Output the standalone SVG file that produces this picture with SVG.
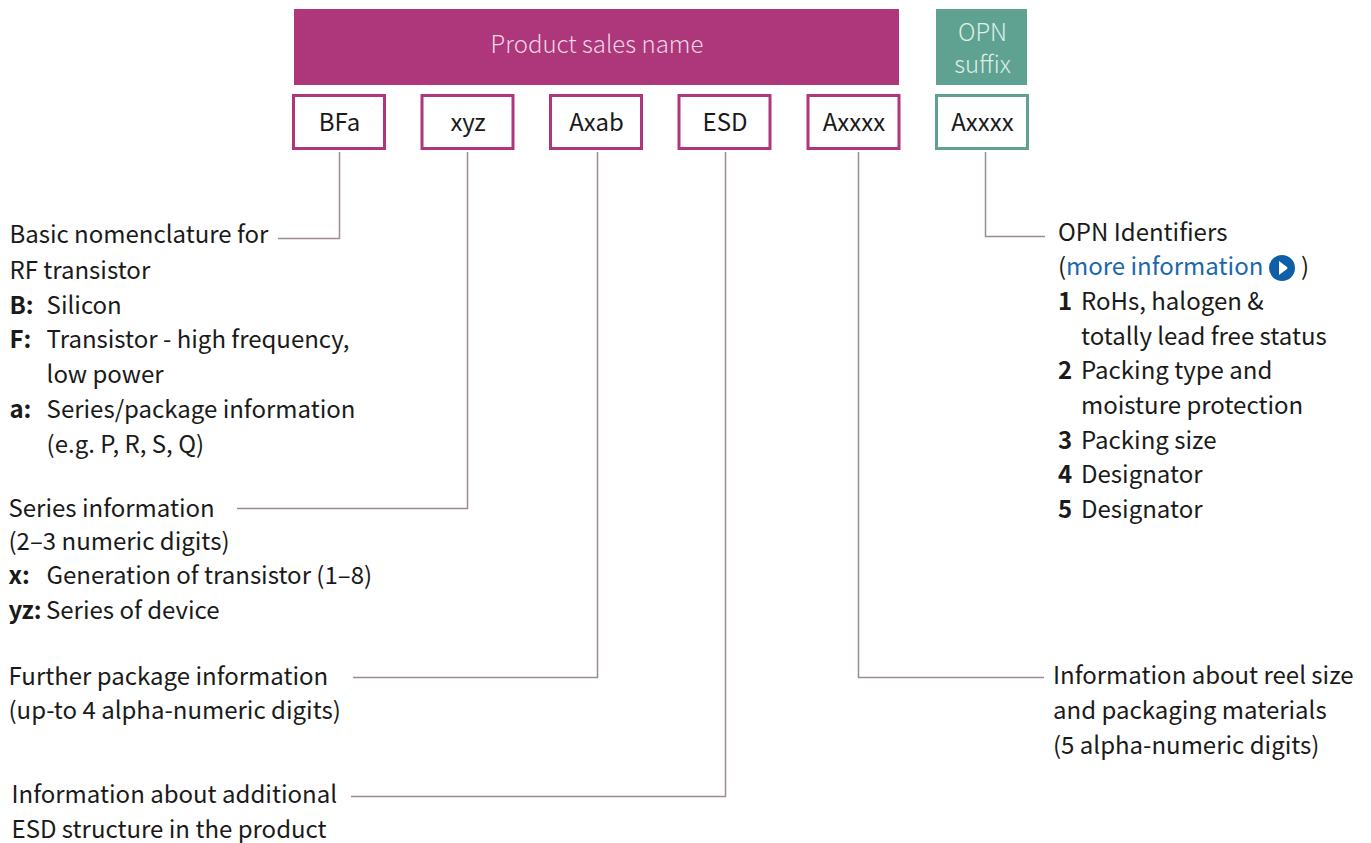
<svg xmlns="http://www.w3.org/2000/svg" width="1371" height="843" viewBox="0 0 1371 843">
<style>
text{font-family:"Noto Sans CJK JP","Noto Sans",sans-serif;font-size:24px;fill:#1a1a1a}
.b{font-weight:700}
.w{fill:#ecd5e4;text-anchor:middle;font-weight:300}
.g{fill:#dceee8;text-anchor:middle;font-weight:300}
.c{text-anchor:middle}
.box{fill:#fff;stroke:#b0367c;stroke-width:3}
.boxg{fill:#fff;stroke:#5fa291;stroke-width:3}
.ln{fill:none;stroke:#9c8d95;stroke-width:1.5}
</style>
<g id="connectors">
<path class="ln" d="M339.500 152V238.500H278"/>
<path class="ln" d="M467.500 152V508.500H237"/>
<path class="ln" d="M597.500 152V677.500H353"/>
<path class="ln" d="M725.500 152V796.500H351"/>
<path class="ln" d="M858.500 152V677.500H1044"/>
<path class="ln" d="M985.500 152V236.500H1045"/>
</g>
<g id="header-product"><rect x="294" y="9" width="605" height="76" fill="#ae367b"/><text class="w" x="597" y="53">Product sales name</text></g>
<g id="header-opn"><rect x="936" y="9" width="91" height="76" fill="#5fa291"/><text class="g" x="982.500" y="41">OPN</text><text class="g" x="982.500" y="73">suffix</text></g>
<g id="node-bfa"><rect class="box" x="293.500" y="95.500" width="91" height="53"/><text class="c" x="339.500" y="131">BFa</text></g>
<g id="node-xyz"><rect class="box" x="422" y="95.500" width="91" height="53"/><text class="c" x="468" y="131">xyz</text></g>
<g id="node-axab"><rect class="box" x="550.500" y="95.500" width="91" height="53"/><text class="c" x="596.500" y="131">Axab</text></g>
<g id="node-esd"><rect class="box" x="679" y="95.500" width="91" height="53"/><text class="c" x="725" y="131">ESD</text></g>
<g id="node-axxxx"><rect class="box" x="808" y="95.500" width="91" height="53"/><text class="c" x="854" y="131">Axxxx</text></g>
<g id="node-opn"><rect class="boxg" x="936.500" y="95.500" width="91" height="53"/><text class="c" x="982.500" y="131">Axxxx</text></g>
<g id="text-basic">
<text x="9.400" y="243">Basic nomenclature for</text><text x="9.400" y="279">RF transistor</text>
<text class="b" x="9.400" y="314">B:</text><text x="46.600" y="314">Silicon</text>
<text class="b" x="9.400" y="348">F:</text><text x="46.600" y="348">Transistor - high frequency,</text><text x="46.600" y="383">low power</text>
<text class="b" x="9.400" y="418">a:</text><text x="46.600" y="418">Series/package information</text><text x="46.600" y="453">(e.g. P, R, S, Q)</text>
</g>
<g id="text-series">
<text x="8.500" y="517">Series information</text><text x="8.500" y="550">(2–3 numeric digits)</text>
<text class="b" x="8.500" y="584">x:</text><text x="46.500" y="584">Generation of transistor (1–8)</text>
<text class="b" x="8.500" y="619">yz:</text><text x="46" y="619">Series of device</text>
</g>
<g id="text-package"><text x="8.500" y="685">Further package information</text><text x="8.500" y="719">(up-to 4 alpha-numeric digits)</text></g>
<g id="text-esd"><text x="11.500" y="803">Information about additional</text><text x="11.500" y="838">ESD structure in the product</text></g>
<g id="text-reel"><text x="1053" y="684">Information about reel size</text><text x="1053" y="719">and packaging materials</text><text x="1053" y="754">(5 alpha-numeric digits)</text></g>
<g id="text-opn">
<text x="1058" y="241">OPN Identifiers</text>
<text x="1058" y="275">(</text><text x="1066" y="275" style="fill:#1a67ad">more information</text>
<circle cx="1282" cy="268" r="13" fill="#0f5fa8"/><path d="M1279 261l8 6q1 1 0 2l-8 6z" fill="#fff"/>
<text x="1301" y="275">)</text>
<text class="b" x="1058" y="310">1</text><text x="1081" y="310">RoHs, halogen &amp;</text><text x="1081" y="345">totally lead free status</text>
<text class="b" x="1058" y="379">2</text><text x="1081" y="379">Packing type and</text><text x="1081" y="414">moisture protection</text>
<text class="b" x="1058" y="449">3</text><text x="1081" y="449">Packing size</text>
<text class="b" x="1058" y="483">4</text><text x="1081" y="483">Designator</text>
<text class="b" x="1058" y="518">5</text><text x="1081" y="518">Designator</text>
</g>
</svg>
